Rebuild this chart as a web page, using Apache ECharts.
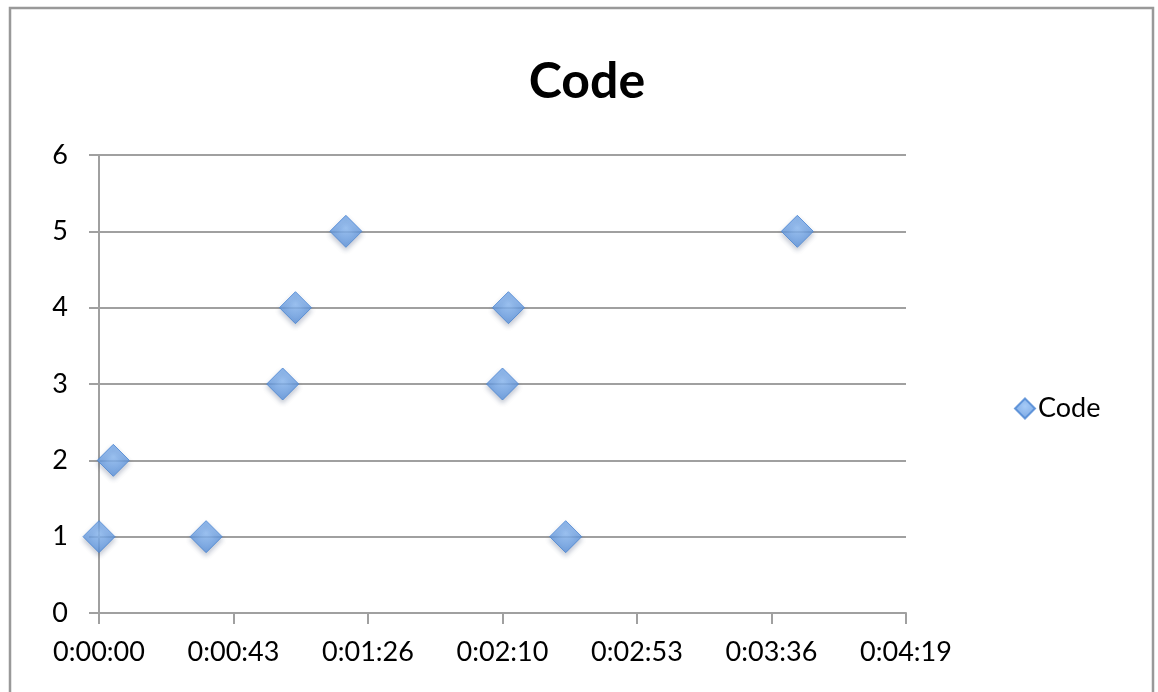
<!DOCTYPE html>
<html>
<head>
<meta charset="utf-8">
<script src="https://cdn.jsdelivr.net/npm/echarts@6/dist/echarts.min.js"></script>
<style>
html,body{margin:0;padding:0;background:#fff;}
#c{width:1158px;height:692px;}
</style>
</head>
<body>
<div id="c"></div>
<script>
// Times in seconds, codes
const seriesName = 'Code';
const timesSec = [0, 4.6, 34.4, 59.0, 63.1, 79.3, 129.6, 131.5, 149.9, 224.3];
const codes    = [1, 2, 1, 3, 4, 5, 3, 4, 1, 5];
const xTickLabels = ['0:00:00','0:00:43','0:01:26','0:02:10','0:02:53','0:03:36','0:04:19'];
const yTickLabels = ['0','1','2','3','4','5','6'];

const data = timesSec.map((t, i) => [t, codes[i]]);
const FONT = 'Lato, "Open Sans", sans-serif';

const chart = echarts.init(document.getElementById('c'), null, {renderer: 'canvas'});
const diamondColor = new echarts.graphic.RadialGradient(0.5, 0.4, 0.6, [
  {offset: 0, color: '#8fbdf5'},
  {offset: 1, color: '#5a92dc'}
]);
chart.setOption({
  backgroundColor: '#fff',
  animation: false,
  graphic: [{
    type: 'rect',
    shape: {x: 10, y: 8, width: 1143, height: 720},
    style: {fill: 'none', stroke: '#999', lineWidth: 2.5},
    silent: true
  }],
  title: {
    text: 'Code',
    left: 582, top: 52, textAlign: 'center',
    textStyle: {fontFamily: FONT, fontSize: 50, fontWeight: 'bold', color: '#000'}
  },
  legend: {
    data: [seriesName],
    left: 1009, top: 390,
    itemWidth: 20, itemHeight: 20, itemGap: 6,
    icon: 'diamond',
    textStyle: {fontFamily: FONT, fontSize: 27, color: '#000', padding: [0,0,0,-2]}
  },
  grid: {left: 99, right: 252, top: 155, bottom: 79, containLabel: false},
  xAxis: {
    type: 'value', min: 0, max: 259.2, interval: 43.2,
    axisLine: {show: true, onZero: false, lineStyle: {color: '#a0a0a0', width: 2}},
    axisTick: {show: true, length: 11, lineStyle: {color: '#a0a0a0', width: 2}},
    splitLine: {show: false},
    axisLabel: {
      margin: 26, color: '#000', fontFamily: FONT, fontSize: 27,
      formatter: (v, i) => xTickLabels[Math.round(v / 43.2)]
    }
  },
  yAxis: {
    type: 'value', min: 0, max: 6, interval: 1,
    axisLine: {show: true, lineStyle: {color: '#a0a0a0', width: 2}},
    axisTick: {show: true, length: 10, lineStyle: {color: '#a0a0a0', width: 2}},
    splitLine: {show: true, lineStyle: {color: '#a0a0a0', width: 2}},
    axisLabel: {
      margin: 31, color: '#000', fontFamily: FONT, fontSize: 27,
      formatter: (v) => yTickLabels[Math.round(v)]
    }
  },
  series: [{
    name: seriesName,
    type: 'scatter',
    symbol: 'diamond',
    symbolSize: [32, 32],
    data: data,
    itemStyle: {
      color: diamondColor,
      borderColor: '#4a84d2', borderWidth: 1,
      shadowColor: 'rgba(40,60,100,0.35)', shadowBlur: 5, shadowOffsetY: 3
    }
  }]
});
</script>
</body>
</html>
